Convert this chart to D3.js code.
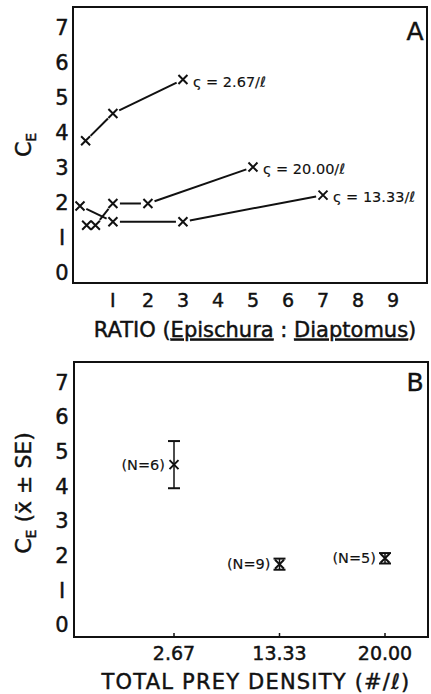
<!DOCTYPE html>
<html>
<head>
<meta charset="utf-8">
<script src="https://d3js.org/d3.v7.min.js"></script>
<style>
  body { margin: 0; background: #fff; }
  text { font-family: "DejaVu Sans", sans-serif; fill: #111; stroke: #111; stroke-width: 0.45px; }
  text.small { stroke-width: 0.15px; }
</style>
</head>
<body>
<script>
// Panel A: C_E vs ratio, one series per prey density
var ratioTicks = [1, 2, 3, 4, 5, 6, 7, 8, 9];
var ceTicks = [0, 1, 2, 3, 4, 5, 6, 7];

var s267  = [[0.22, 3.75], [1, 4.53], [3, 5.5]];
var s2000 = [[0.25, 1.34], [0.5, 1.34], [1, 1.96], [2, 1.96], [5, 3.0]];
var s1333 = [[0.06, 1.89], [1, 1.44], [3, 1.44], [7, 2.2]];
var seriesLabels = ["ς = 2.67/ℓ", "ς = 20.00/ℓ", "ς = 13.33/ℓ"];

// Panel B: mean C_E +/- SE by total prey density
var densities = ["2.67", "13.33", "20.00"];
var meanCE = [4.62, 1.75, 1.92];
var seCE = [0.68, 0.16, 0.15];
var sampleN = ["(N=6)", "(N=9)", "(N=5)"];

var W = 431, H = 694;
var svg = d3.select("body").append("svg").attr("width", W).attr("height", H);

function drawBox(g, x0, y0, x1, y1) {
    g.append("rect")
        .attr("x", x0).attr("y", y0)
        .attr("width", x1 - x0).attr("height", y1 - y0)
        .attr("fill", "none").attr("stroke", "#111").attr("stroke-width", 2);
}

function cross(g, cx, cy, r) {
    g.append("path")
        .attr("d", "M" + (cx - r) + "," + (cy - r) + "L" + (cx + r) + "," + (cy + r) +
                   "M" + (cx + r) + "," + (cy - r) + "L" + (cx - r) + "," + (cy + r))
        .attr("stroke", "#111").attr("stroke-width", 2).attr("fill", "none");
}

//////////////////////////////////////////////////////////////////////////////
// Panel A

var xA = d3.scaleLinear().domain([-0.14, 9.97]).range([73, 427]);
var yA = d3.scaleLinear().domain([-0.31, 7.57]).range([283, 7]);

var gA = svg.append("g");
drawBox(gA, 73, 7, 427, 283);

gA.selectAll(".yt").data(ceTicks).enter().append("text")
    .attr("x", 62).attr("y", function(d) { return yA(d); })
    .attr("dy", "0.36em").attr("text-anchor", "middle")
    .attr("font-size", 21).text(function(d) { return d === 1 ? "I" : d; });

gA.selectAll(".xt").data(ratioTicks).enter().append("text")
    .attr("x", function(d) { return xA(d); }).attr("y", 300)
    .attr("dy", "0.36em").attr("text-anchor", "middle")
    .attr("font-size", 19).text(function(d) { return d === 1 ? "I" : d; });

var gap = 7;
[s267, s2000, s1333].forEach(function(series, si) {
    for (var i = 0; i < series.length - 1; i++) {
        var ax = xA(series[i][0]), ay = yA(series[i][1]);
        var bx = xA(series[i + 1][0]), by = yA(series[i + 1][1]);
        var len = Math.hypot(bx - ax, by - ay);
        if (len <= 2 * gap + 2) continue;
        var ux = (bx - ax) / len, uy = (by - ay) / len;
        gA.append("line")
            .attr("x1", ax + ux * gap).attr("y1", ay + uy * gap)
            .attr("x2", bx - ux * gap).attr("y2", by - uy * gap)
            .attr("stroke", "#111").attr("stroke-width", 2);
    }
    series.forEach(function(p) { cross(gA, xA(p[0]), yA(p[1]), 4.5); });
    var last = series[series.length - 1];
    gA.append("text").attr("class", "small")
        .attr("x", xA(last[0]) + 10).attr("y", yA(last[1]) + 2)
        .attr("dy", "0.36em").attr("font-size", 14.5)
        .text(seriesLabels[si]);
});

gA.append("text").attr("x", 415).attr("y", 31).attr("dy", "0.36em")
    .attr("text-anchor", "middle").attr("font-size", 25).text("A");

var tA = gA.append("text").attr("x", 255).attr("y", 329).attr("dy", "0.36em")
    .attr("text-anchor", "middle").attr("font-size", 21);
tA.append("tspan").text("RATIO (");
tA.append("tspan").attr("text-decoration", "underline").text("Epischura");
tA.append("tspan").text(" : ");
tA.append("tspan").attr("text-decoration", "underline").text("Diaptomus");
tA.append("tspan").text(")");

var yTitleA = gA.append("text")
    .attr("transform", "translate(31,145) rotate(-90)")
    .attr("text-anchor", "middle").attr("font-size", 22);
yTitleA.append("tspan").text("C");
yTitleA.append("tspan").attr("font-size", 14).attr("dy", 5).text("E");

//////////////////////////////////////////////////////////////////////////////
// Panel B

var xB = d3.scalePoint().domain(densities).range([174, 385]);
var yB = d3.scaleLinear().domain([-0.35, 7.58]).range([637, 362]);

var gB = svg.append("g");
drawBox(gB, 74, 362, 428, 637);

gB.selectAll(".tick").data(densities).enter().append("line")
    .attr("x1", function(d) { return xB(d); }).attr("x2", function(d) { return xB(d); })
    .attr("y1", 637).attr("y2", 633)
    .attr("stroke", "#111").attr("stroke-width", 1.5);

gB.selectAll(".yt").data(ceTicks).enter().append("text")
    .attr("x", 62).attr("y", function(d) { return yB(d); })
    .attr("dy", "0.36em").attr("text-anchor", "middle")
    .attr("font-size", 21).text(function(d) { return d === 1 ? "I" : d; });

gB.selectAll(".xt").data(densities).enter().append("text")
    .attr("x", function(d) { return xB(d); }).attr("y", 653)
    .attr("dy", "0.36em").attr("text-anchor", "middle")
    .attr("font-size", 19).text(function(d) { return d; });

densities.forEach(function(d, i) {
    var cx = xB(d);
    var top = yB(meanCE[i] + seCE[i]), bot = yB(meanCE[i] - seCE[i]);
    gB.append("line").attr("x1", cx).attr("x2", cx).attr("y1", top).attr("y2", bot)
        .attr("stroke", "#111").attr("stroke-width", 1.5);
    [top, bot].forEach(function(yy) {
        gB.append("line").attr("x1", cx - 6).attr("x2", cx + 6).attr("y1", yy).attr("y2", yy)
            .attr("stroke", "#111").attr("stroke-width", 2);
    });
    cross(gB, cx, yB(meanCE[i]), 4.5);
    gB.append("text").attr("class", "small")
        .attr("x", cx - 9).attr("y", yB(meanCE[i]))
        .attr("dy", "0.36em").attr("text-anchor", "end")
        .attr("font-size", 14.5).text(sampleN[i]);
});

gB.append("text").attr("x", 415).attr("y", 382).attr("dy", "0.36em")
    .attr("text-anchor", "middle").attr("font-size", 25).text("B");

gB.append("text").attr("x", 256).attr("y", 681).attr("dy", "0.36em")
    .attr("text-anchor", "middle").attr("font-size", 21).attr("letter-spacing", 1.2)
    .text("TOTAL PREY DENSITY (#/ℓ)");

var yTitleB = gB.append("text")
    .attr("transform", "translate(31,493) rotate(-90)")
    .attr("text-anchor", "middle").attr("font-size", 22);
yTitleB.append("tspan").text("C");
yTitleB.append("tspan").attr("font-size", 14).attr("dy", 5).text("E");
yTitleB.append("tspan").attr("dy", -5).text(" (x̄ ± SE)");
</script>
</body>
</html>
